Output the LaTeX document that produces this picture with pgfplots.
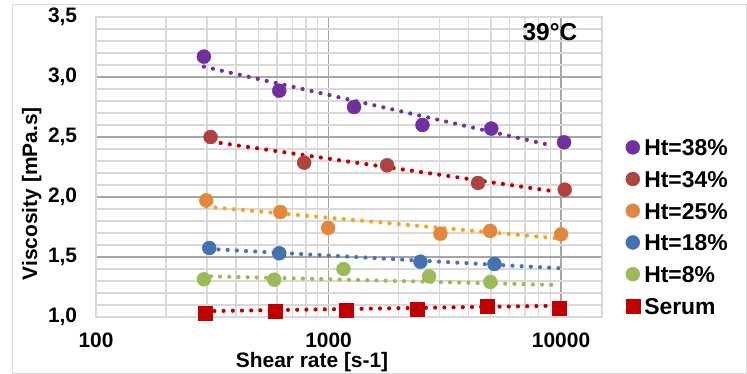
\documentclass[border=0pt]{standalone}
\usepackage{fontspec}
\setmainfont{Liberation Sans}
\usepackage{pgfplots}
\pgfplotsset{compat=1.18}
\definecolor{cPurple}{HTML}{7030A0}
\definecolor{cBrick}{HTML}{AE4440}
\definecolor{cOrange}{HTML}{E3873E}
\definecolor{cBlue}{HTML}{4372B0}
\definecolor{cGreen}{HTML}{9BBB59}
\definecolor{cSerum}{HTML}{C00000}
\definecolor{tPurple}{HTML}{7030A0}
\definecolor{tRed}{HTML}{C00000}
\definecolor{tOrange}{HTML}{F7A51C}
\definecolor{tBlue}{HTML}{4472C4}
\definecolor{tGreen}{HTML}{9BBB59}
\definecolor{gMinor}{HTML}{D9D9D9}
\definecolor{gMajor}{HTML}{A6A6A6}
\begin{document}
\begin{tikzpicture}
\useasboundingbox (0bp,0bp) rectangle (747bp,374bp);
\draw[gMinor, line width=1bp] (12.5bp,0.5bp) rectangle (746.5bp,369.5bp);
\begin{axis}[
  at={(96bp,57bp)}, anchor=south west,
  scale only axis, width=506bp, height=300bp,
  xmode=log, xmin=100, xmax=15000, ymin=1, ymax=3.5,
  xtick={100,1000,10000}, xticklabels={100,1000,10000},
  minor xtick={200,300,400,500,600,700,800,900,2000,3000,4000,5000,6000,7000,8000,9000},
  ytick={1,1.5,2,2.5,3,3.5}, minor y tick num=4,
  major tick length=0pt, minor tick length=0pt,
  grid=both,
  major grid style={gMajor, line width=1.2bp},
  minor grid style={gMinor, line width=1.2bp},
  axis line style={gMinor, line width=1.2bp},
  /pgf/number format/assume math mode=true,
  tick label style={font=\bfseries\fontsize{21}{21}\selectfont, black},
  yticklabel style={/pgf/number format/use comma, /pgf/number format/fixed, /pgf/number format/fixed zerofill, /pgf/number format/precision=1, anchor=east, inner sep=0pt, xshift=-18.7bp},
  xticklabel style={anchor=center, inner sep=0pt, yshift=-23bp},
  xlabel={Shear rate [s-1]},
  ylabel={Viscosity [mPa.s]},
  label style={font=\bfseries\fontsize{21}{21}\selectfont},
  xlabel style={at={(axis description cs:0.427,-0.15)}, anchor=center},
  ylabel style={at={(axis description cs:-0.127,0.411)}, anchor=center},
  legend image code/.code={\draw[#1] plot coordinates {(0bp,0bp)};},
  legend style={at={(axis description cs:1.047,0.603)}, anchor=north west, draw=none, fill=none, inner sep=0pt, outer sep=0pt,
    font=\bfseries\fontsize{23}{23}\selectfont, row sep=9.2bp, column sep=4.5bp,
    nodes={inner sep=0pt, text height=19.5bp, text depth=3bp}},
  legend cell align=left,
  trend/.style={line width=4.2bp, dash pattern=on 0bp off 9.2bp, line cap=round, forget plot, mark=none},
  pt/.style={only marks, mark=*, mark size=7.0bp, color=#1, mark options={draw=#1, fill=#1}},
  clip=false,
]
% scatter series
\addplot[pt=cPurple] coordinates {
 (291,3.17) (614,2.886) (1288,2.75) (2535,2.60) (5012,2.57) (10300,2.456)};
\addlegendentry{Ht=38\%}
\addplot[pt=cBrick] coordinates {
 (311,2.50) (786,2.286) (1786,2.264) (4395,2.117) (10370,2.061)};
\addlegendentry{Ht=34\%}
\addplot[pt=cOrange] coordinates {
 (298,1.972) (620,1.875) (996,1.742) (3027,1.694) (4955,1.717) (10000,1.689)};
\addlegendentry{Ht=25\%}
\addplot[pt=cBlue] coordinates {
 (307,1.575) (614,1.531) (2485,1.461) (5170,1.442)};
\addlegendentry{Ht=18\%}
\addplot[pt=cGreen] coordinates {
 (291,1.314) (584,1.311) (1160,1.40) (2706,1.339) (4966,1.292)};
\addlegendentry{Ht=8\%}
\addplot[only marks, mark=square*, mark size=7.0bp, color=cSerum, mark options={draw=cSerum, fill=cSerum}] coordinates {
 (295,1.028) (588,1.047) (1195,1.058) (2411,1.067) (4820,1.092) (9860,1.072)};
\addlegendentry{Serum}
% trendlines
\addplot[trend, tPurple] coordinates {(291,3.086) (9180,2.428)};
\addplot[trend, tRed] coordinates {(314,2.461) (9550,2.044)};
\addplot[trend, tOrange] coordinates {(298,1.919) (9550,1.656)};
\addplot[trend, tBlue] coordinates {(307,1.567) (9870,1.406)};
\addplot[trend, tGreen] coordinates {(312,1.339) (9550,1.267)};
\addplot[trend, tRed] coordinates {(323,1.05) (9860,1.094)};
\node[font=\bfseries\fontsize{24.5}{24.5}\selectfont, anchor=center] at (axis description cs:0.897,0.951) {39°C};
\end{axis}
\end{tikzpicture}
\end{document}
